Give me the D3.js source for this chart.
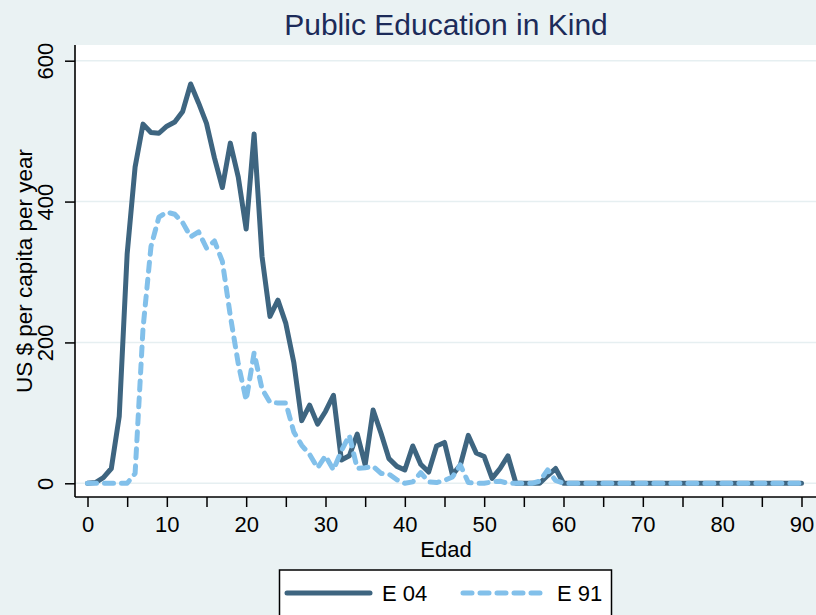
<!DOCTYPE html>
<html>
<head>
<meta charset="utf-8">
<script src="https://cdn.jsdelivr.net/npm/d3@7"></script>
<style>
  html, body { margin: 0; padding: 0; background: #eaf2f3; }
  svg { display: block; }
  text { font-family: "Liberation Sans", Arial, Helvetica, sans-serif; }
</style>
</head>
<body>
<svg id="chart" width="816" height="615"></svg>
<script>
// Public spending on education in kind, by age (Edad), two survey years
const ages = d3.range(0, 91);

const e04 = [
  0, 1, 8, 21, 95, 326, 449, 510, 498, 497,
  507, 513, 528, 567, 540, 511, 462, 420, 483, 435,
  361, 496, 322, 237, 260, 227, 172, 89, 111, 84,
  102, 125, 33, 39, 70, 26, 104, 71, 35, 24,
  19, 53, 27, 16, 53, 58, 12, 26, 68, 43,
  38, 7, 21, 39, 0, 0, 0, 0, 11, 21,
  0, 0, 0, 0, 0, 0, 0, 0, 0, 0,
  0, 0, 0, 0, 0, 0, 0, 0, 0, 0,
  0, 0, 0, 0, 0, 0, 0, 0, 0, 0,
  0
];

const e91 = [
  0, 0, 0, 0, 0, 0, 14, 220, 336, 378,
  385, 382, 370, 350, 357, 334, 344, 315, 238, 170,
  118, 185, 134, 115, 114, 114, 73, 54, 41, 22,
  39, 19, 46, 68, 21, 22, 24, 14, 13, 5,
  0, 2, 15, 2, 1, 4, 9, 26, 1, 0,
  0, 2, 3, 0, 0, 0, 0, 3, 19, 4,
  0, 0, 0, 0, 0, 0, 0, 0, 0, 0,
  0, 0, 0, 0, 0, 0, 0, 0, 0, 0,
  0, 0, 0, 0, 0, 0, 0, 0, 0, 0,
  0
];

const yTicks = [0, 200, 400, 600];
const xTicks = d3.range(0, 91, 5);
const xLabelled = d3.range(0, 91, 10);

const seriesNames = ["E 04", "E 91"];
const colors = { "E 04": "#3e6580", "E 91": "#82c0ea" };

const title = "Public Education in Kind";
const xTitle = "Edad";
const yTitle = "US $ per capita per year";

const svg = d3.select("#chart");
const W = 816, H = 615;

// plot region
const region = { left: 75, right: 816, top: 45, bottom: 497 };

const x = d3.scaleLinear().domain([0, 90]).range([87.5, 801.5]);
const y = d3.scaleLinear().domain([0, 600]).range([483.3, 60.7]);

svg.append("rect").attr("width", W).attr("height", H).attr("fill", "#eaf2f3");
svg.append("rect")
  .attr("x", region.left).attr("y", region.top)
  .attr("width", region.right - region.left)
  .attr("height", region.bottom - region.top)
  .attr("fill", "#ffffff");

// horizontal grid
svg.append("g").selectAll("line").data(yTicks).join("line")
  .attr("x1", region.left).attr("x2", region.right)
  .attr("y1", d => y(d)).attr("y2", d => y(d))
  .attr("stroke", "#e6eff1").attr("stroke-width", 1.6);

// lines
const line = vals => d3.line()
  .x((d, i) => x(ages[i]))
  .y(d => y(d))(vals);

svg.append("path")
  .attr("d", line(e04))
  .attr("fill", "none")
  .attr("stroke", colors["E 04"])
  .attr("stroke-width", 5)
  .attr("stroke-linejoin", "round")
  .attr("stroke-linecap", "round");

svg.append("path")
  .attr("d", line(e91))
  .attr("fill", "none")
  .attr("stroke", colors["E 91"])
  .attr("stroke-width", 5)
  .attr("stroke-linejoin", "round")
  .attr("stroke-linecap", "round")
  .attr("stroke-dasharray", "9,8");

// x axis
const xAxis = d3.axisBottom(x)
  .tickValues(xTicks)
  .tickSize(10)
  .tickSizeOuter(0)
  .tickPadding(9)
  .tickFormat(d => (d % 10 === 0 ? d : ""));

const gx = svg.append("g")
  .attr("transform", `translate(0,${region.bottom})`)
  .call(xAxis);
gx.select(".domain").remove();
gx.selectAll(".tick line").attr("stroke", "#000").attr("stroke-width", 1.5);
gx.selectAll(".tick text")
  .attr("fill", "#000")
  .style("font-size", "22px");

// y axis
const yAxis = d3.axisLeft(y)
  .tickValues(yTicks)
  .tickSize(10)
  .tickSizeOuter(0)
  .tickPadding(0)
  .tickFormat(d3.format("d"));

const gy = svg.append("g")
  .attr("transform", `translate(${region.left},0)`)
  .call(yAxis);
gy.select(".domain").remove();
gy.selectAll(".tick line").attr("stroke", "#000").attr("stroke-width", 1.5);
gy.selectAll(".tick text")
  .attr("fill", "#000")
  .attr("x", 0).attr("dy", 0)
  .attr("text-anchor", "middle")
  .attr("transform", "translate(-22,0) rotate(-90)")
  .style("font-size", "22px");

// axis lines
svg.append("line")
  .attr("x1", region.left).attr("x2", region.left)
  .attr("y1", region.top).attr("y2", region.bottom)
  .attr("stroke", "#000").attr("stroke-width", 1.6);
svg.append("line")
  .attr("x1", region.left).attr("x2", region.right)
  .attr("y1", region.bottom).attr("y2", region.bottom)
  .attr("stroke", "#000").attr("stroke-width", 1.6);

// titles
svg.append("text")
  .attr("x", 446).attr("y", 35)
  .attr("text-anchor", "middle")
  .attr("fill", "#1c2b59")
  .style("font-size", "30px")
  .text(title);

svg.append("text")
  .attr("x", 446).attr("y", 557)
  .attr("text-anchor", "middle")
  .attr("fill", "#000")
  .style("font-size", "22px")
  .text(xTitle);

svg.append("text")
  .attr("transform", `translate(32,${(region.top + region.bottom) / 2}) rotate(-90)`)
  .attr("text-anchor", "middle")
  .attr("fill", "#000")
  .style("font-size", "22.5px")
  .text(yTitle);

// legend
const legend = svg.append("g");
legend.append("rect")
  .attr("x", 279.5).attr("y", 570)
  .attr("width", 332).attr("height", 60)
  .attr("fill", "#ffffff")
  .attr("stroke", "#000").attr("stroke-width", 1.5);

const legendItems = [
  { name: seriesNames[0], x0: 287, x1: 370, tx: 382, dash: null },
  { name: seriesNames[1], x0: 463, x1: 543, tx: 557, dash: "9,8" }
];
legendItems.forEach(it => {
  legend.append("line")
    .attr("x1", it.x0).attr("x2", it.x1)
    .attr("y1", 593).attr("y2", 593)
    .attr("stroke", colors[it.name])
    .attr("stroke-width", 5)
    .attr("stroke-linecap", "round")
    .attr("stroke-dasharray", it.dash);
  legend.append("text")
    .attr("x", it.tx).attr("y", 601)
    .attr("fill", "#000")
    .style("font-size", "22px")
    .text(it.name);
});
</script>
</body>
</html>
